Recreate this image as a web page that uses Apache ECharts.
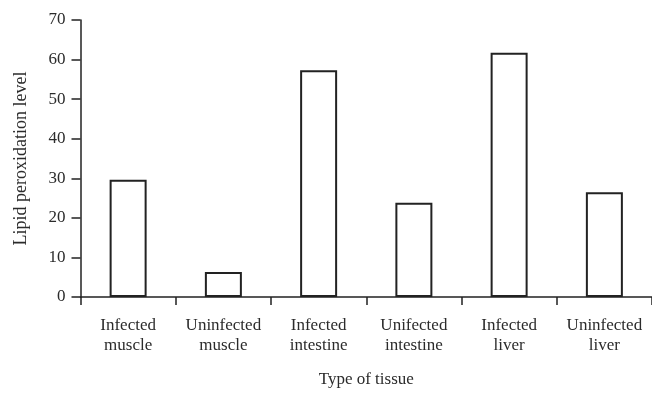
<!DOCTYPE html>
<html>
<head>
<meta charset="utf-8">
<script src="https://cdn.jsdelivr.net/npm/echarts@6/dist/echarts.min.js"></script>
<style>html,body{margin:0;padding:0;background:#fff}#c{width:652px;height:393px}</style>
</head>
<body>
<div id="c"></div>
<script>
const categories = ["Infected\nmuscle", "Uninfected\nmuscle", "Infected\nintestine", "Unifected\nintestine", "Infected\nliver", "Uninfected\nliver"];
const values = [29.6, 6.3, 57.3, 23.8, 61.7, 26.5];
const yTicks = [0, 10, 20, 30, 40, 50, 60, 70];
const xTitle = "Type of tissue";
const yTitle = "Lipid peroxidation level";

const FONT = '"Liberation Serif", "Times New Roman", serif';
const INK = '#222';
const TEXT = '#2b2b2b';
const chart = echarts.init(document.getElementById('c'), null, {renderer: 'canvas'});
chart.setOption({
  animation: false,
  backgroundColor: '#fff',
  grid: {left: 80.5, top: 20, width: 579, height: 280.5, containLabel: false},
  xAxis: {
    type: 'category',
    data: categories,
    boundaryGap: true,
    axisLine: {show: true, lineStyle: {color: INK, width: 1.5}},
    axisTick: {show: true, length: 8, alignWithLabel: false, lineStyle: {color: INK, width: 1.5}},
    axisLabel: {color: TEXT, fontFamily: FONT, fontSize: 17, lineHeight: 20, margin: 19, interval: 0},
    splitLine: {show: false},
    name: xTitle,
    nameLocation: 'middle',
    nameGap: 74,
    nameTextStyle: {color: TEXT, fontFamily: FONT, fontSize: 17}
  },
  yAxis: {
    type: 'value',
    min: yTicks[0],
    max: yTicks[yTicks.length - 1],
    interval: 10,
    axisLine: {show: true, lineStyle: {color: INK, width: 1.5}},
    axisTick: {show: true, length: 9, lineStyle: {color: INK, width: 1.5}},
    axisLabel: {color: TEXT, fontFamily: FONT, fontSize: 17, margin: 15},
    splitLine: {show: false},
    name: yTitle,
    nameLocation: 'middle',
    nameGap: 50,
    nameRotate: 90,
    nameTextStyle: {color: TEXT, fontFamily: FONT, fontSize: 18}
  },
  series: [{
    type: 'bar',
    data: values,
    barWidth: 37,
    itemStyle: {color: '#fff', borderColor: INK, borderWidth: 2}
  }]
});
</script>
</body>
</html>
